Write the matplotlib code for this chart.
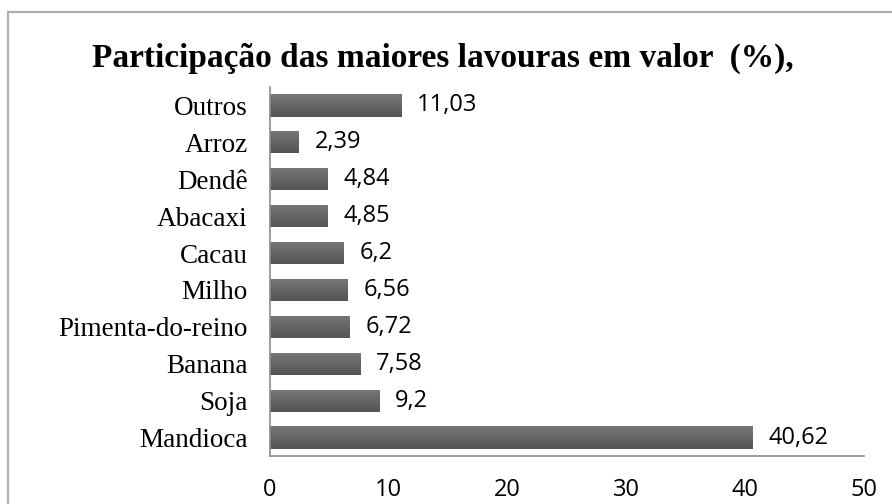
import matplotlib
matplotlib.use("Agg")
import matplotlib.pyplot as plt
from matplotlib.patches import Rectangle
import numpy as np

# data, bottom to top as drawn
categorias = ["Mandioca", "Soja", "Banana", "Pimenta-do-reino", "Milho",
              "Cacau", "Abacaxi", "Dendê", "Arroz", "Outros"]
valores = [40.62, 9.2, 7.58, 6.72, 6.56, 6.2, 4.85, 4.84, 2.39, 11.03]
rotulos = ["40,62", "9,2", "7,58", "6,72", "6,56", "6,2", "4,85", "4,84", "2,39", "11,03"]
ticks_x = [0, 10, 20, 30, 40, 50]

W, H = 892, 504
fig = plt.figure(figsize=(W / 100, H / 100), dpi=100)
ax = fig.add_axes([270 / W, 1 - 456 / H, (864 - 270) / W, (456 - 87) / H])

# outer chart border (Excel style)
fig.patches.append(Rectangle((8 / W, -0.05), 1.2, 1 - 12 / H + 0.05,
                             transform=fig.transFigure, fill=False,
                             edgecolor="#b0b0b0", linewidth=1.6))

y = np.arange(len(categorias))
bars = ax.barh(y, valores, height=0.6, color="#666666", edgecolor="none")

# vertical gradient inside each bar, lighter at top
grad = np.linspace(0.47, 0.33, 64).reshape(-1, 1)
for b in bars:
    x0, y0 = b.get_x(), b.get_y()
    im = ax.imshow(grad, cmap="gray", vmin=0, vmax=1, aspect="auto",
                   extent=(x0, x0 + b.get_width(), y0, y0 + b.get_height()),
                   origin="upper", zorder=2)
    im.set_clip_path(b)

for yi, v, lab in zip(y, valores, rotulos):
    ax.text(v + 1.35, yi, lab, va="center", ha="left",
            fontsize=17, family="Open Sans", color="#000000")

ax.set_xlim(0, 50)
ax.set_ylim(-0.5, len(categorias) - 0.5)
ax.set_xticks(ticks_x)
ax.set_xticklabels([str(t) for t in ticks_x], family="Open Sans", fontsize=17)
ax.tick_params(axis="x", length=0, pad=16)
ax.set_yticks(y)
ax.set_yticklabels(categorias, family="Liberation Serif", fontsize=19.5)
ax.tick_params(axis="y", length=0, pad=16)

for s in ("top", "right"):
    ax.spines[s].set_visible(False)
for s in ("left", "bottom"):
    ax.spines[s].set_color("#8c8c8c")
    ax.spines[s].set_linewidth(1.2)

fig.text(443 / W, 1 - 58 / H,
         "Participação das maiores lavouras em valor  (%),",
         ha="center", va="center", family="Liberation Serif",
         fontweight="bold", fontsize=24)

fig.savefig("out.png", dpi=100)
